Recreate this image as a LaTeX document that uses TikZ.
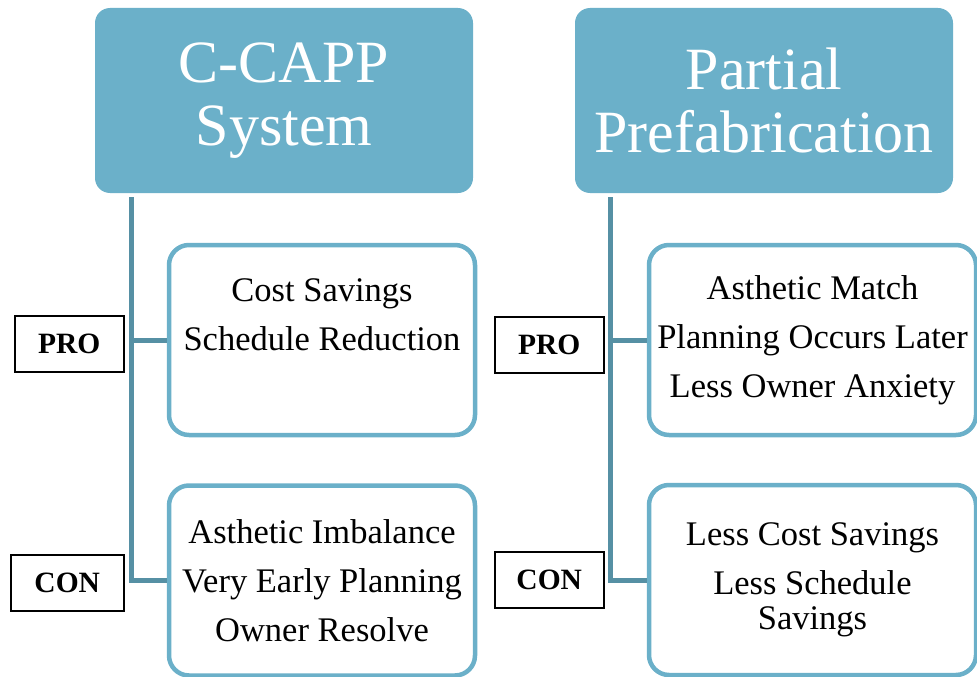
\documentclass[tikz,border=0pt]{standalone}
\usepackage{fontspec}
\setmainfont{Liberation Serif}
\usetikzlibrary{positioning}

\definecolor{headblue}{RGB}{107,176,201}
\definecolor{trunkblue}{RGB}{86,144,164}

\tikzset{
  head/.style={rectangle,rounded corners=15pt,fill=headblue,text=white,
    minimum width=378pt,minimum height=185pt,align=center,
    font=\fontsize{60}{63}\selectfont},
  item/.style={rectangle,rounded corners=20pt,draw=headblue,line width=4.5pt,
    fill=white,minimum height=190pt,align=center,
    font=\fontsize{34.5}{35}\selectfont},
  tag/.style={rectangle,draw=black,line width=2pt,minimum width=109pt,
    minimum height=56pt,font=\fontsize{29.5}{30}\selectfont\bfseries},
  trunk/.style={draw=trunkblue,line width=5pt}
}

\begin{document}
\begin{tikzpicture}[x=1pt,y=-1pt,node distance=42pt]
\useasboundingbox (0,0) rectangle (977,677);

\node[head] (ccapp) at (284,100.5) {C-CAPP\\System};
\node[head] (partial) at (764,100.5) {Partial\\Prefabrication};

\node[item,minimum width=306pt] (ccappPro) at (322,340)
  {Cost Savings\\[14pt]Schedule Reduction\\[6pt]\strut};
\node[item,minimum width=306pt] (ccappCon) at (322,580.5)
  {Asthetic Imbalance\\[14pt]Very Early Planning\\[14pt]Owner Resolve};
\node[item,minimum width=327pt] (partialPro) at (812.5,340)
  {Asthetic Match\\[14pt]Planning Occurs Later\\[14pt]Less Owner Anxiety};
\node[item,minimum width=327pt] (partialCon) at (812.5,580)
  {Less Cost Savings\\[14pt]Less Schedule\\Savings};

\node[tag] (ccappProTag) [left=of ccappPro,yshift=-4pt] {PRO};
\node[tag,minimum width=113pt] (ccappConTag) [left=of ccappCon,yshift=-2pt] {CON};
\node[tag] (partialProTag) [left=of partialPro,yshift=-5pt] {PRO};
\node[tag] (partialConTag) [left=of partialCon] {CON};

\coordinate (ccappRoot) at (131,197);
\coordinate (partialRoot) at (610,197);
\draw[trunk] (ccappRoot) |- (ccappCon.west);
\draw[trunk] (ccappRoot |- ccappPro.west) -- (ccappPro.west);
\draw[trunk] (partialRoot) |- (partialCon.west);
\draw[trunk] (partialRoot |- partialPro.west) -- (partialPro.west);
\end{tikzpicture}
\end{document}
